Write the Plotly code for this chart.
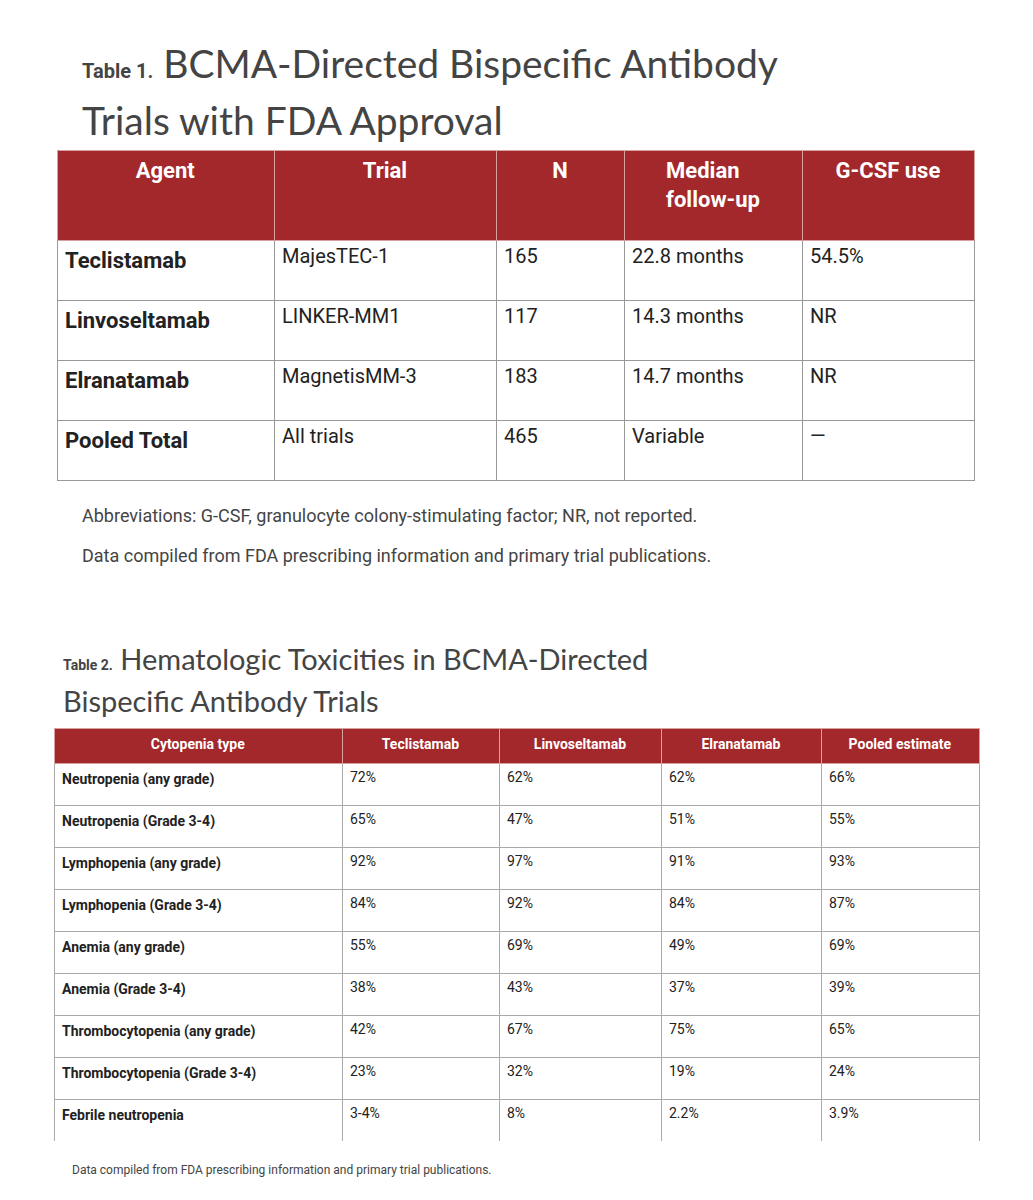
import plotly.graph_objects as go

# Table 1 data
t1_header = ["<b>Agent</b>", "<b>Trial</b>", "<b>N</b>", "<b>Median<br>follow-up</b>", "<b>G-CSF use</b>"]
t1_agent = ["Teclistamab", "Linvoseltamab", "Elranatamab", "Pooled Total"]
t1_trial = ["MajesTEC-1", "LINKER-MM1", "MagnetisMM-3", "All trials"]
t1_n = ["165", "117", "183", "465"]
t1_follow = ["22.8 months", "14.3 months", "14.7 months", "Variable"]
t1_gcsf = ["54.5%", "NR", "NR", "—"]

# Table 2 data
t2_header = ["<b>Cytopenia type</b>", "<b>Teclistamab</b>", "<b>Linvoseltamab</b>", "<b>Elranatamab</b>", "<b>Pooled estimate</b>"]
t2_type = ["Neutropenia (any grade)", "Neutropenia (Grade 3-4)", "Lymphopenia (any grade)",
           "Lymphopenia (Grade 3-4)", "Anemia (any grade)", "Anemia (Grade 3-4)",
           "Thrombocytopenia (any grade)", "Thrombocytopenia (Grade 3-4)", "Febrile neutropenia"]
t2_tec = ["72%", "65%", "92%", "84%", "55%", "38%", "42%", "23%", "3-4%"]
t2_lin = ["62%", "47%", "97%", "92%", "69%", "43%", "67%", "32%", "8%"]
t2_elr = ["62%", "51%", "91%", "84%", "49%", "37%", "75%", "19%", "2.2%"]
t2_pool = ["66%", "55%", "93%", "87%", "69%", "39%", "65%", "24%", "3.9%"]

W, H = 1033, 1200
RED = "#a3282b"
FONT = "Liberation Sans Narrow, Roboto, sans-serif"
TXT = "#222"
DX, DY = 9, 8  # plotly's internal table offset

def xd(a, b):
    return [(a - DX) / W, (b - DX) / W]

def yd(top, bot):
    return [1 - (bot - DY) / H, 1 - (top - DY) / H]

fig = go.Figure()
fig.add_trace(go.Table(
    domain=dict(x=xd(58, 975), y=yd(150, 482)),
    columnwidth=[217, 222, 128, 178, 172],
    header=dict(values=t1_header, fill_color=RED, height=90,
                font=dict(color="white", size=22, family=FONT),
                align="center", line=dict(color="#d9a0a0", width=1)),
    cells=dict(values=[[f"<b>{a}</b>" for a in t1_agent], t1_trial, t1_n, t1_follow, t1_gcsf],
               fill_color="white", height=60,
               font=dict(color=TXT, size=[22, 20, 20, 20, 20], family=FONT),
               align="left", line=dict(color="#999", width=1)),
))
fig.add_trace(go.Table(
    domain=dict(x=xd(55, 980), y=yd(728, 1142)),
    columnwidth=[288, 157, 162, 160, 158],
    header=dict(values=t2_header, fill_color=RED, height=35,
                font=dict(color="white", size=14, family=FONT),
                align="center", line=dict(color="#d9a0a0", width=1)),
    cells=dict(values=[[f"<b>{t}</b>" for t in t2_type], t2_tec, t2_lin, t2_elr, t2_pool],
               fill_color="white", height=42,
               font=dict(color=TXT, size=14, family=FONT),
               align="left", line=dict(color="#aaa", width=1)),
))

ann = [
    dict(x=72, y=55, text="<span style='font-size:20px;font-family:" + FONT + "'><b>Table 1.</b></span> BCMA-Directed Bispecific Antibody",
         size=39),
    dict(x=72, y=112, text="Trials with FDA Approval", size=39),
    dict(x=72, y=507, text="Abbreviations: G-CSF, granulocyte colony-stimulating factor; NR, not reported.", size=18, fam=FONT, col="#444"),
    dict(x=72, y=547, text="Data compiled from FDA prescribing information and primary trial publications.", size=18, fam=FONT, col="#444"),
    dict(x=53, y=650, text="<span style='font-size:14px;font-family:" + FONT + "'><b>Table 2.</b></span> Hematologic Toxicities in BCMA-Directed",
         size=29),
    dict(x=53, y=692, text="Bispecific Antibody Trials", size=29),
    dict(x=62, y=1162, text="Data compiled from FDA prescribing information and primary trial publications.", size=12, fam=FONT, col="#444"),
]
for a in ann:
    fig.add_annotation(x=a["x"] / W, y=1 - a["y"] / H, xref="paper", yref="paper",
                       xanchor="left", yanchor="middle", showarrow=False, text=a["text"],
                       font=dict(size=a["size"], family=a.get("fam", "Lato, Noto Sans, sans-serif"),
                                 color=a.get("col", "#444")))

fig.update_layout(width=W, height=H, margin=dict(l=0, r=0, t=0, b=0),
                  paper_bgcolor="white", plot_bgcolor="white")
fig.write_html("out.html")
